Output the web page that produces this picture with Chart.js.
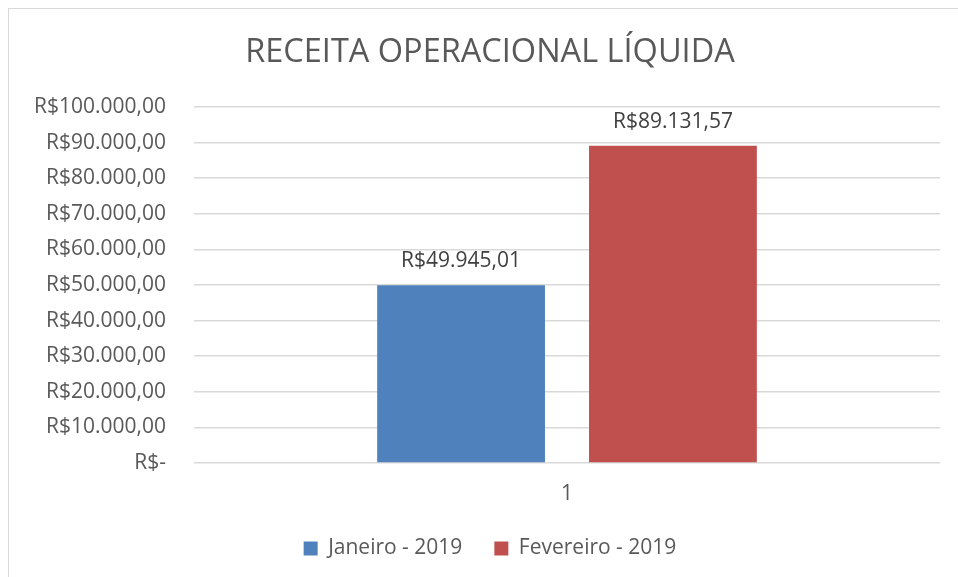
<!DOCTYPE html>
<html>
<head>
<meta charset="utf-8">
<script src="https://cdn.jsdelivr.net/npm/chart.js@4/dist/chart.umd.min.js"></script>
<style>
  html, body { margin: 0; padding: 0; background: #fff; overflow: hidden; }
  #frame {
    position: absolute; left: 8px; top: 8px;
    width: 962px; height: 600px;
    border: 1px solid #d9d9d9;
  }
  #wrap { position: absolute; left: 0; top: 0; width: 962px; height: 560px; }
</style>
</head>
<body>
<div id="frame">
  <div id="wrap"><canvas id="myChart"></canvas></div>
</div>
<script>
// categories and values
const categories = ["1"];
const seriesNames = ["Janeiro - 2019", "Fevereiro - 2019"];
const janeiro = [49945.01];
const fevereiro = [89131.57];
const seriesColors = ["#4F81BD", "#C0504D"];

const FONT = "'Open Sans', Lato, sans-serif";

// R$ formatting with dots for thousands and comma for decimals
function formatBRL(v) {
  let parts = v.toFixed(2).split(".");
  let intPart = parts[0].replace(/\B(?=(\d{3})+(?!\d))/g, ".");
  return "R$" + intPart + "," + parts[1];
}

// draws the value above each bar
const valueLabels = {
  id: "valueLabels",
  afterDatasetsDraw(chart) {
    const ctx = chart.ctx;
    ctx.save();
    ctx.font = "21px " + FONT;
    ctx.fillStyle = "#404040";
    ctx.textAlign = "center";
    ctx.textBaseline = "middle";
    chart.data.datasets.forEach((ds, i) => {
      chart.getDatasetMeta(i).data.forEach((bar, j) => {
        ctx.fillText(formatBRL(ds.data[j]), bar.x, bar.y - 24);
      });
    });
    ctx.restore();
  },
};

const ctx = document.getElementById("myChart").getContext("2d");
const chart = new Chart(ctx, {
  type: "bar",
  data: {
    labels: categories,
    datasets: [
      { label: seriesNames[0], data: janeiro, backgroundColor: seriesColors[0] },
      { label: seriesNames[1], data: fevereiro, backgroundColor: seriesColors[1] },
    ],
  },
  options: {
    responsive: true,
    maintainAspectRatio: false,
    animation: false,
    categoryPercentage: 0.568,
    barPercentage: 0.792,
    plugins: {
      title: {
        display: true,
        text: "RECEITA OPERACIONAL LÍQUIDA",
        color: "#595959",
        font: { family: FONT, size: 32.5, weight: "normal" },
        padding: { top: 24, bottom: 35 },
      },
      legend: {
        position: "bottom",
        labels: {
          color: "#595959",
          font: { family: FONT, size: 21 },
          boxWidth: 14,
          boxHeight: 14,
          padding: 32,
        },
      },
      tooltip: { enabled: false },
    },
    scales: {
      x: {
        grid: { display: false, drawTicks: false },
        border: { display: false },
        ticks: { color: "#595959", font: { family: FONT, size: 21 }, padding: 18 },
        afterFit: (scale) => { scale.height = 43; },
      },
      y: {
        min: 0,
        max: 100000,
        grid: { color: "#d9d9d9", lineWidth: 1.5, drawTicks: false },
        border: { display: false },
        ticks: {
          stepSize: 10000,
          color: "#595959",
          font: { family: FONT, size: 21 },
          padding: 28,
          callback: (v) => (v === 0 ? "R$-" : formatBRL(v)),
        },
        afterFit: (scale) => { scale.width = 185; },
      },
      // empty margin on the right of the plot
      margin: {
        type: "linear",
        position: "right",
        grid: { display: false },
        border: { display: false },
        ticks: { display: false },
        afterFit: (scale) => { scale.width = 31; },
      },
    },
  },
  plugins: [valueLabels],
});
</script>
</body>
</html>
